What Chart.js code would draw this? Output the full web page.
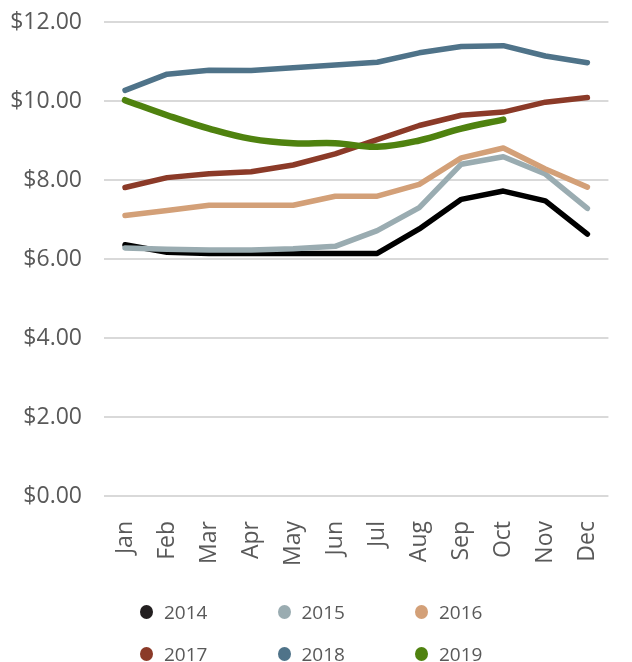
<!DOCTYPE html>
<html>
<head>
<meta charset="utf-8">
<script src="https://cdn.jsdelivr.net/npm/chart.js@4"></script>
<style>
  html, body { margin: 0; padding: 0; background: #fff; }
  #wrap { position: relative; width: 632px; height: 662px; }
  #legend {
    position: absolute; left: 140px; top: 591px;
    display: grid; grid-template-columns: repeat(3, 137.5px); grid-auto-rows: 42px;
    font-family: "Open Sans", sans-serif; font-size: 19px; color: #595959;
  }
  #legend .item { display: flex; align-items: center; }
  #legend .dot { width: 13px; height: 14px; border-radius: 50%; margin-right: 11px; }
</style>
</head>
<body>
<div id="wrap">
  <canvas id="priceChart" width="632" height="662"></canvas>
  <div id="legend"></div>
</div>
<script>
const months = ['Jan', 'Feb', 'Mar', 'Apr', 'May', 'Jun', 'Jul', 'Aug', 'Sep', 'Oct', 'Nov', 'Dec'];
const years = ['2014', '2015', '2016', '2017', '2018', '2019'];

const y2014 = [6.36, 6.17, 6.14, 6.14, 6.14, 6.14, 6.14, 6.76, 7.51, 7.72, 7.47, 6.63];
const y2015 = [6.28, 6.25, 6.23, 6.23, 6.26, 6.32, 6.72, 7.30, 8.40, 8.59, 8.15, 7.28];
const y2016 = [7.10, 7.23, 7.36, 7.36, 7.36, 7.59, 7.59, 7.89, 8.56, 8.81, 8.28, 7.82];
const y2017 = [7.81, 8.06, 8.16, 8.21, 8.38, 8.66, 9.02, 9.38, 9.64, 9.72, 9.97, 10.09];
const y2018 = [10.27, 10.68, 10.78, 10.77, 10.84, 10.91, 10.98, 11.22, 11.38, 11.40, 11.14, 10.97];
const y2019 = [10.02, 9.64, 9.30, 9.04, 8.93, 8.93, 8.84, 9.00, 9.30, 9.53, null, null];

const seriesData = [y2014, y2015, y2016, y2017, y2018, y2019];
const lineColors = ['#000000', '#9aacb1', '#d3a078', '#8b3a28', '#4f7389', '#4f820f'];
const dotColors = ['#231f20', '#9aacb1', '#d3a078', '#8b3a28', '#4f7389', '#4f820f'];
const widths = [5.5, 5.5, 5.5, 5.5, 5.5, 6.5];

const datasets = years.map((y, i) => ({
    label: y,
    data: seriesData[i],
    borderColor: lineColors[i],
    backgroundColor: dotColors[i],
    borderWidth: widths[i],
    pointRadius: 0,
    tension: y === '2019' ? 0.4 : 0,
    borderJoinStyle: 'round',
    borderCapStyle: 'round',
    order: years.length - i
}));

const chart = new Chart(document.getElementById('priceChart').getContext('2d'), {
    type: 'line',
    data: { labels: months, datasets: datasets },
    options: {
        responsive: false,
        animation: false,
        layout: { padding: { top: 22, left: 0, right: 0, bottom: 79 } },
        plugins: {
            legend: { display: false },
            tooltip: { enabled: false }
        },
        scales: {
            x: {
                offset: true,
                grid: { display: false },
                border: { display: false },
                ticks: {
                    color: '#595959',
                    font: { family: 'Open Sans', size: 23 },
                    maxRotation: 90,
                    minRotation: 90,
                    padding: 17
                }
            },
            y: {
                min: 0,
                max: 12,
                grid: { color: '#d9d9d9', lineWidth: 2, drawTicks: false },
                border: { display: false },
                afterFit: s => { s.width = 104; s.paddingTop = 0; s.paddingBottom = 0; },
                ticks: {
                    stepSize: 2,
                    color: '#595959',
                    font: { family: 'Open Sans', size: 23 },
                    padding: 22,
                    callback: v => '$' + v.toFixed(2)
                }
            }
        }
    }
});

// legend laid out in three columns like the original
const legend = document.getElementById('legend');
chart.data.datasets.forEach(ds => {
    const item = document.createElement('div');
    item.className = 'item';
    const dot = document.createElement('span');
    dot.className = 'dot';
    dot.style.background = ds.backgroundColor;
    item.appendChild(dot);
    item.appendChild(document.createTextNode(ds.label));
    legend.appendChild(item);
});
</script>
</body>
</html>
